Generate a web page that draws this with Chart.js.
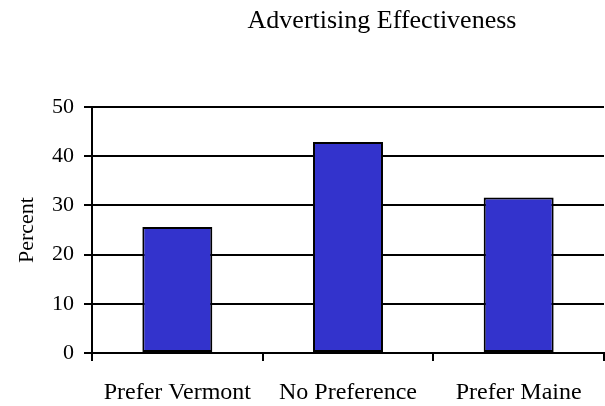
<!DOCTYPE html>
<html>
<head>
<meta charset="utf-8">
<script src="https://cdn.jsdelivr.net/npm/chart.js@4/dist/chart.umd.min.js"></script>
<style>
html,body{margin:0;padding:0;background:#fff;}
#wrap{width:605px;height:406px;}
</style>
</head>
<body>
<div id="wrap"><canvas id="c" width="605" height="406"></canvas></div>
<script>
const chartTitle = "Advertising Effectiveness";
const categories = ["Prefer Vermont", "No Preference", "Prefer Maine"];
const percentValues = [25.6, 42.9, 31.6];
const yTicks = [0, 10, 20, 30, 40, 50];
const yAxisTitle = "Percent";

const serif = "'Liberation Serif', 'Times New Roman', serif";

const titlePlugin = {
  id: 'offsetTitle',
  afterDraw(chart) {
    const ctx = chart.ctx;
    ctx.save();
    ctx.font = "26px " + serif;
    ctx.fillStyle = "#000";
    ctx.textAlign = "center";
    ctx.textBaseline = "alphabetic";
    ctx.fillText(chartTitle, 382, 28);
    ctx.restore();
  }
};

new Chart(document.getElementById('c'), {
  type: 'bar',
  data: {
    labels: categories,
    datasets: [{
      data: percentValues,
      backgroundColor: '#3333CC',
      borderColor: '#000',
      borderWidth: 2,
      borderSkipped: false,
      barPercentage: 0.82,
      categoryPercentage: 0.5
    }]
  },
  options: {
    responsive: false,
    animation: false,
    devicePixelRatio: 1,
    layout: { padding: { top: 107, right: 1, left: 0, bottom: 0 } },
    plugins: { legend: { display: false }, tooltip: { enabled: false }, title: { display: false } },
    scales: {
      x: {
        offset: true,
        grid: { offset: true, drawOnChartArea: false, color: '#000', lineWidth: 2, tickLength: 8 },
        border: { color: '#000', width: 2 },
        ticks: { color: '#000', font: { family: serif, size: 24 }, padding: 17, maxRotation: 0, autoSkip: false },
        afterFit(scale) { scale.height = 53; }
      },
      y: {
        min: 0, max: 50,
        afterBuildTicks(scale) { scale.ticks = yTicks.map(v => ({ value: v })); },
        grid: { color: '#000', lineWidth: 2, tickLength: 8 },
        border: { color: '#000', width: 2 },
        ticks: { color: '#000', font: { family: serif, size: 22 }, padding: 10 },
        title: { display: true, text: yAxisTitle, color: '#000', font: { family: serif, size: 22 }, padding: { top: 14, bottom: 0 } },
        afterFit(scale) { scale.width = 92; }
      }
    }
  },
  plugins: [titlePlugin]
});
</script>
</body>
</html>
